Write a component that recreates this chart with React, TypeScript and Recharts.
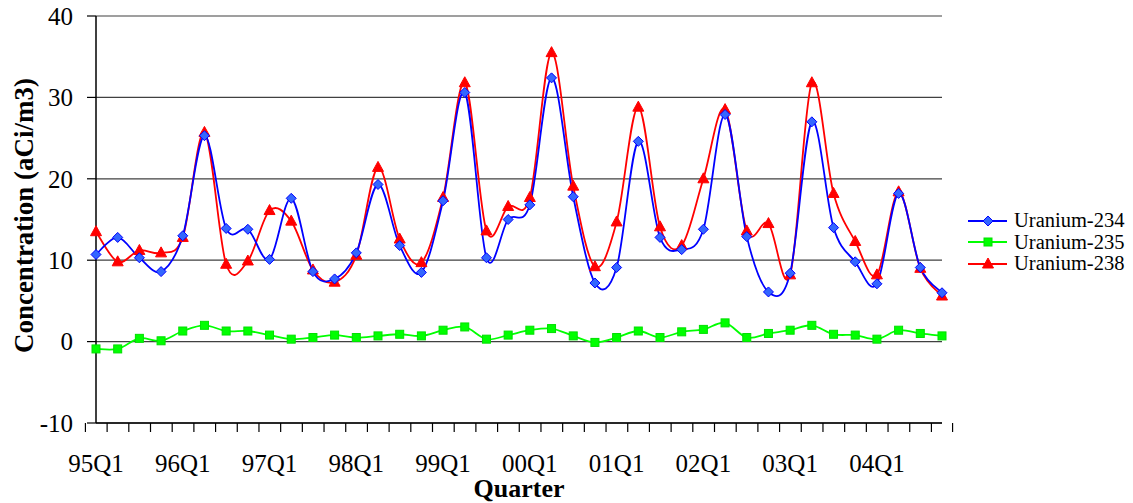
import React from 'react';
import { LineChart, Line, XAxis, YAxis, CartesianGrid } from 'recharts';

const quarters = [
  '95Q1', '95Q2', '95Q3', '95Q4', '96Q1', '96Q2', '96Q3', '96Q4',
  '97Q1', '97Q2', '97Q3', '97Q4', '98Q1', '98Q2', '98Q3', '98Q4',
  '99Q1', '99Q2', '99Q3', '99Q4', '00Q1', '00Q2', '00Q3', '00Q4',
  '01Q1', '01Q2', '01Q3', '01Q4', '02Q1', '02Q2', '02Q3', '02Q4',
  '03Q1', '03Q2', '03Q3', '03Q4', '04Q1', '04Q2', '04Q3', '04Q4',
];

const u234 = [
  10.7, 12.8, 10.3, 8.6, 13.0, 25.3, 13.9, 13.8,
  10.1, 17.6, 8.6, 7.7, 10.9, 19.3, 11.8, 8.5,
  17.3, 30.6, 10.3, 15.0, 16.8, 32.4, 17.8, 7.2,
  9.1, 24.6, 12.8, 11.3, 13.8, 27.9, 12.9, 6.1,
  8.4, 27.0, 14.0, 9.8, 7.1, 18.2, 9.1, 6.0,
];

const u235 = [
  -0.9, -0.9, 0.4, 0.1, 1.3, 2.0, 1.3, 1.3,
  0.8, 0.3, 0.5, 0.8, 0.5, 0.7, 0.9, 0.7,
  1.4, 1.8, 0.3, 0.8, 1.4, 1.6, 0.7, -0.1,
  0.5, 1.3, 0.5, 1.2, 1.5, 2.3, 0.5, 1.0,
  1.4, 2.0, 0.9, 0.8, 0.3, 1.4, 1.0, 0.7,
];

const u238 = [
  13.5, 9.8, 11.2, 10.9, 12.8, 25.7, 9.5, 9.9,
  16.1, 14.8, 8.8, 7.3, 10.6, 21.4, 12.6, 9.7,
  17.7, 31.8, 13.6, 16.6, 17.7, 35.5, 19.1, 9.2,
  14.7, 28.8, 14.1, 11.8, 20.0, 28.5, 13.6, 14.5,
  8.2, 31.8, 18.2, 12.3, 8.2, 18.4, 9.0, 5.6,
];

const yTicks = [-10, 0, 10, 20, 30, 40];

const data = quarters.map((q, i) => ({ q, u234: u234[i], u235: u235[i], u238: u238[i] }));

const FONT = '"Liberation Serif", "Times New Roman", serif';
const W = 1133;
const H = 503;
const PLOT_LEFT = 96;
const PLOT_RIGHT = 942;
const PLOT_TOP = 16;
const PLOT_BOTTOM = 423;
const HALF_BAND = (PLOT_RIGHT - PLOT_LEFT) / quarters.length / 2;

// excel style smoothing (catmull-rom as bezier)
const excelCurve = (context: any) => {
  let pts: number[][] = [];
  return {
    areaStart() {},
    areaEnd() {},
    lineStart() { pts = []; },
    point(x: number, y: number) { pts.push([+x, +y]); },
    lineEnd() {
      if (!pts.length) return;
      context.moveTo(pts[0][0], pts[0][1]);
      for (let i = 0; i < pts.length - 1; i++) {
        const p0 = pts[i - 1] || pts[i];
        const p1 = pts[i];
        const p2 = pts[i + 1];
        const p3 = pts[i + 2] || p2;
        context.bezierCurveTo(
          p1[0] + (p2[0] - p0[0]) / 6, p1[1] + (p2[1] - p0[1]) / 6,
          p2[0] - (p3[0] - p1[0]) / 6, p2[1] - (p3[1] - p1[1]) / 6,
          p2[0], p2[1],
        );
      }
    },
  };
};

const Diamond = (props: any) => {
  const { cx, cy } = props;
  if (cx == null || cy == null) return null;
  return (
    <path
      d={`M${cx},${cy - 5}L${cx + 5},${cy}L${cx},${cy + 5}L${cx - 5},${cy}Z`}
      fill="#3366ff"
      stroke="#0000ff"
      strokeWidth={1}
    />
  );
};

const Square = (props: any) => {
  const { cx, cy } = props;
  if (cx == null || cy == null) return null;
  return <rect x={cx - 4} y={cy - 4} width={8} height={8} fill="#00ff00" stroke="#00e000" strokeWidth={1} />;
};

const Triangle = (props: any) => {
  const { cx, cy } = props;
  if (cx == null || cy == null) return null;
  return <path d={`M${cx},${cy - 6}L${cx + 5.5},${cy + 4}L${cx - 5.5},${cy + 4}Z`} fill="#ff0000" stroke="#ff0000" />;
};

const QuarterTick = (props: any) => {
  const { x, y, payload, index } = props;
  const last = index === quarters.length - 1;
  return (
    <g>
      <line x1={x - HALF_BAND} y1={y} x2={x - HALF_BAND} y2={y + 9} stroke="#000" strokeWidth={1.2} />
      {last && <line x1={x + HALF_BAND} y1={y} x2={x + HALF_BAND} y2={y + 9} stroke="#000" strokeWidth={1.2} />}
      {index % 4 === 0 && (
        <text x={x} y={y + 49} textAnchor="middle" fontSize={25} fontFamily={FONT} fill="#000">
          {payload.value}
        </text>
      )}
    </g>
  );
};

const YTitle = (props: any) => {
  const { viewBox } = props;
  const cx = 24;
  const cy = viewBox.y + viewBox.height / 2 - 4;
  return (
    <text
      x={cx}
      y={cy}
      transform={`rotate(-90, ${cx}, ${cy})`}
      textAnchor="middle"
      dominantBaseline="central"
      fontSize={27}
      fontWeight="bold"
      fontFamily={FONT}
      fill="#000"
    >
      Concentration (aCi/m3)
    </text>
  );
};

const legendItems = [
  { name: 'Uranium-234', color: '#0000ff', Marker: Diamond },
  { name: 'Uranium-235', color: '#00ff00', Marker: Square },
  { name: 'Uranium-238', color: '#ff0000', Marker: Triangle },
];

export default function App() {
  return (
    <div style={{ position: 'absolute', left: 0, top: 0, width: W, height: H, background: '#fff' }}>
      <LineChart
        width={W}
        height={H}
        data={data}
        margin={{ top: PLOT_TOP, right: W - PLOT_RIGHT, bottom: 0, left: 0 }}
      >
        <CartesianGrid vertical={false} stroke="#404040" strokeWidth={1.2} />
        <XAxis
          dataKey="q"
          interval={0}
          height={H - PLOT_BOTTOM}
          tickSize={0}
          tickMargin={0}
          tick={<QuarterTick />}
          axisLine={{ stroke: '#000', strokeWidth: 1.5 }}
          label={{
            value: 'Quarter',
            position: 'insideBottom',
            offset: 6,
            fontSize: 26,
            fontWeight: 'bold',
            fontFamily: FONT,
            fill: '#000',
          }}
        />
        <XAxis xAxisId="top" dataKey="q" orientation="top" height={0} tick={false} tickLine={false} axisLine={{ stroke: '#888', strokeWidth: 2 }} />
        <YAxis
          domain={[-10, 40]}
          ticks={yTicks}
          width={PLOT_LEFT}
          tickSize={9}
          tickMargin={14}
          interval={0}
          tick={{ fontSize: 25, fontFamily: FONT, fill: '#000' }}
          tickLine={{ stroke: '#000', strokeWidth: 1.2 }}
          axisLine={{ stroke: '#000', strokeWidth: 1.5 }}
          label={<YTitle />}
        />
        <YAxis yAxisId="right" orientation="right" width={0} domain={[-10, 40]} tick={false} tickLine={false} axisLine={{ stroke: '#888', strokeWidth: 2 }} />
        <Line
          dataKey="u235"
          type={excelCurve as any}
          stroke="#00ff00"
          strokeWidth={1.8}
          dot={<Square />}
          isAnimationActive={false}
        />
        <Line
          dataKey="u238"
          type={excelCurve as any}
          stroke="#ff0000"
          strokeWidth={1.8}
          dot={<Triangle />}
          isAnimationActive={false}
        />
        <Line
          dataKey="u234"
          type={excelCurve as any}
          stroke="#0000ff"
          strokeWidth={1.8}
          dot={<Diamond />}
          isAnimationActive={false}
        />
      </LineChart>

      {/* legend */}
      <div style={{ position: 'absolute', left: 966, top: 210, fontFamily: FONT, fontSize: 20.5, color: '#000' }}>
        {legendItems.map(({ name, color, Marker }) => (
          <div key={name} style={{ display: 'flex', alignItems: 'center', height: 21.5 }}>
            <svg width={44} height={14} style={{ marginRight: 4 }}>
              <line x1={2} y1={7} x2={41} y2={7} stroke={color} strokeWidth={1.8} />
              <Marker cx={22} cy={7} />
            </svg>
            <span style={{ lineHeight: '21.5px' }}>{name}</span>
          </div>
        ))}
      </div>
    </div>
  );
}
